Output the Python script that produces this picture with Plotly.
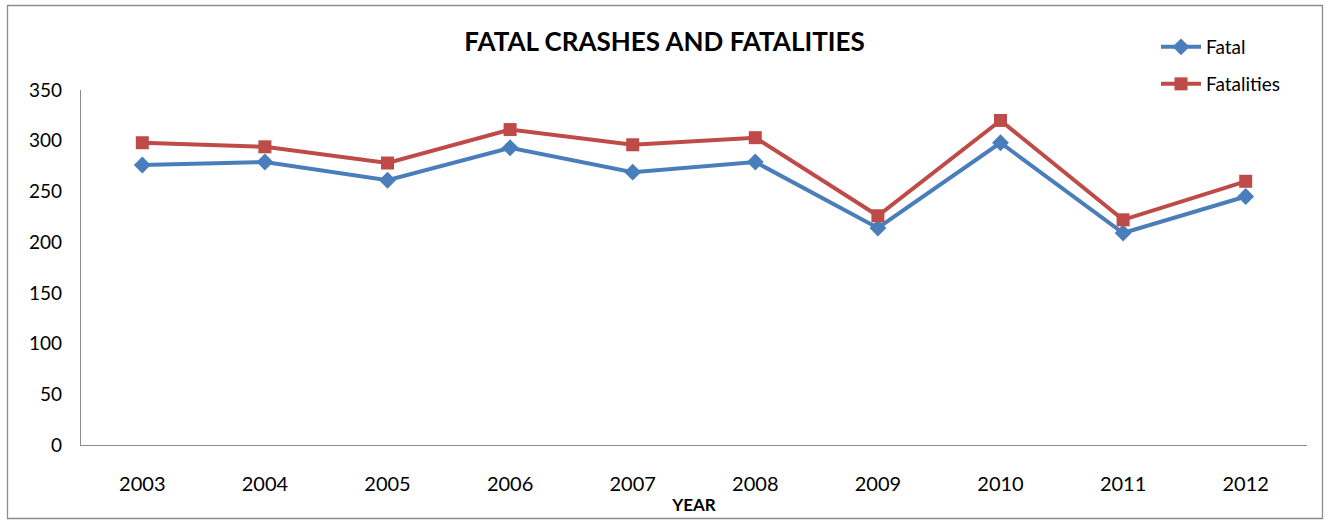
import plotly.graph_objects as go

years = ["2003", "2004", "2005", "2006", "2007", "2008", "2009", "2010", "2011", "2012"]
fatal = [276, 279, 261, 293, 269, 279, 214, 298, 209, 245]
fatalities = [298, 294, 278, 311, 296, 303, 226, 320, 222, 260]
y_ticks = [0, 50, 100, 150, 200, 250, 300, 350]

FONT = "Lato, Carlito, Calibri, sans-serif"
BLUE = "#4A7EBB"
RED = "#BE4B48"

fig = go.Figure()
fig.add_trace(go.Scatter(
    x=years, y=fatal, name="Fatal", mode="lines+markers",
    line=dict(color=BLUE, width=4),
    marker=dict(symbol="diamond", size=13, color=BLUE),
    legend="legend2",
))
fig.add_trace(go.Scatter(
    x=years, y=fatalities, name="Fatalities", mode="lines+markers",
    line=dict(color=RED, width=4),
    marker=dict(symbol="square", size=13, color=RED),
    legend="legend3",
))

L, R, T, B = 81, 22, 90, 76
W, H = 1329, 521
pw, ph = W - L - R, H - T - B

def px(x):
    return (x - L) / pw

def py(y):
    return (H - B - y) / ph

leg_common = dict(xanchor="left", yanchor="middle", bgcolor="rgba(0,0,0,0)",
                  font=dict(family=FONT, size=19, color="#000000"), itemwidth=40)

fig.update_layout(
    width=W, height=H,
    margin=dict(l=L, r=R, t=T, b=B, autoexpand=False),
    paper_bgcolor="white", plot_bgcolor="white",
    font=dict(family=FONT, size=20, color="#000000"),
    title=dict(text="<b>FATAL CRASHES AND FATALITIES</b>", x=0.5, xref="container",
               y=1 - 42 / H, yref="container", yanchor="middle", xanchor="center",
               font=dict(family=FONT, size=26, color="#000000")),
    xaxis=dict(
        type="category", range=[-0.5, 9.5], showgrid=False, zeroline=False,
        showline=True, linecolor="#8C8C8C", linewidth=1.3, ticks="",
        ticklabelstandoff=21,
        tickfont=dict(family=FONT, size=20, color="#000000"),
        title=dict(text="<b>YEAR</b>", standoff=4, font=dict(family=FONT, size=17, color="#000000")),
    ),
    yaxis=dict(
        range=[0, 350], tickvals=y_ticks, showgrid=False, zeroline=False,
        showline=True, linecolor="#8C8C8C", linewidth=1.3, ticks="",
        ticklabelstandoff=14,
        tickfont=dict(family=FONT, size=19, color="#000000"),
    ),
    legend2=dict(x=px(1156), y=py(47), **leg_common),
    legend3=dict(x=px(1156), y=py(84), **leg_common),
    shapes=[dict(type="rect", xref="paper", yref="paper",
                 x0=px(7.5), x1=px(1322.5), y0=py(518.5), y1=py(5.5),
                 line=dict(color="#8C8C8C", width=1.3), fillcolor="rgba(0,0,0,0)",
                 layer="below")],
)

fig.write_html("out.html", config={"displayModeBar": False},
               post_script="document.body.style.margin='0';document.body.style.overflow='hidden';")
